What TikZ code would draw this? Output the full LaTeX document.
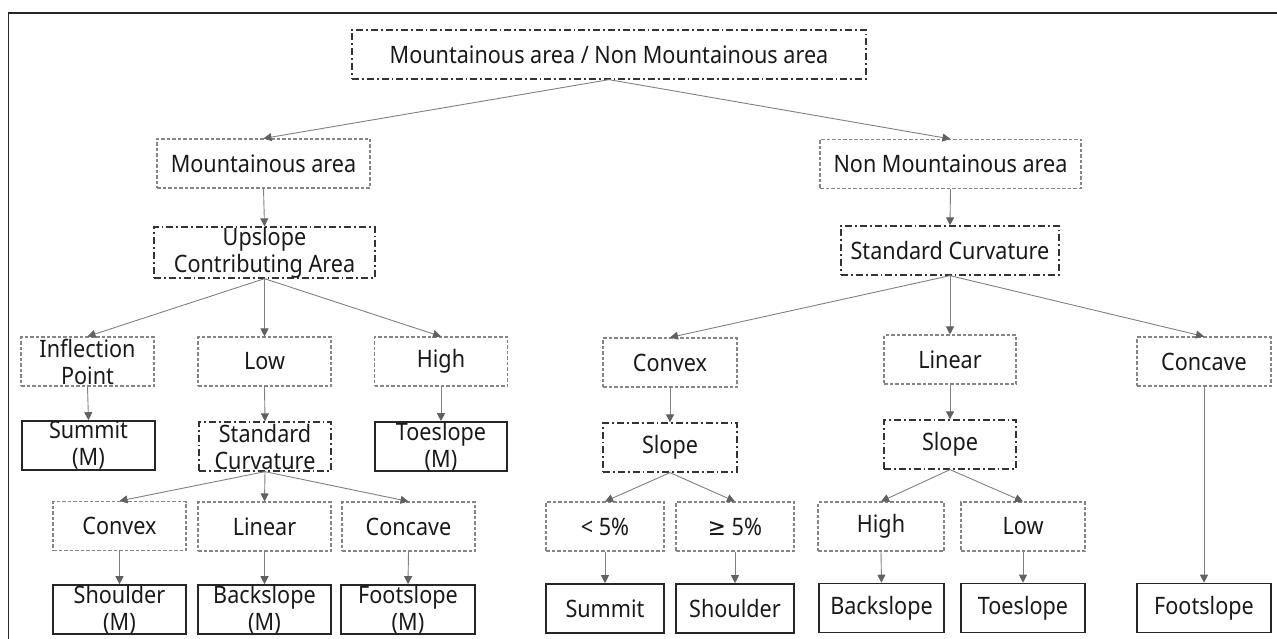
\documentclass[tikz,border=0pt]{standalone}
\usepackage{fontspec}
\setmainfont{Noto Sans}[FakeStretch=0.9]
\newfontfamily\symf{DejaVu Sans}[FakeStretch=0.9]
\usetikzlibrary{arrows.meta}
\begin{document}
\begin{tikzpicture}[x=1pt,y=-1pt,
  base/.style={minimum height=49pt, inner sep=0pt, align=center,
    font=\fontsize{24}{27}\selectfont, text=black!90},
  catbox/.style={base, draw=black!48, line width=1.1pt, dash pattern=on 3.5pt off 2pt},
  decbox/.style={base, draw=black!80, line width=1.3pt, dash pattern=on 7pt off 3pt on 1.8pt off 3pt},
  resbox/.style={base, draw=black!85, line width=1.6pt},
  conn/.style={draw=black!50, line width=0.9pt, -{Triangle[length=8pt,width=8pt,color=black!62]}}]
\useasboundingbox (0,0) rectangle (1277,639);
\draw[line width=1.2pt, black!85] (8.5,639) -- (8.5,13) -- (1277,13);

% level 1-2
\node[decbox, minimum width=514pt] (top) at (609,54.5) {Mountainous area / Non Mountainous area};
\node[catbox, minimum width=213pt] (mount) at (263.5,163.5) {Mountainous area};
\node[catbox, minimum width=261pt] (nonm) at (950.5,164) {Non Mountainous area};
\node[decbox, minimum width=221pt] (ups) at (264.5,252.5) {Upslope\\Contributing Area};
\node[decbox, minimum width=218pt] (scR) at (950,250.5) {Standard Curvature};

% row 3
\node[catbox, minimum width=133pt] (infl) at (87.5,361.5) {Inflection\\Point};
\node[catbox, minimum width=133pt] (low) at (264.5,361.5) {Low};
\node[catbox, minimum width=133pt] (high) at (441,361.5) {High};
\node[catbox, minimum width=134pt] (convR) at (670,362.5) {Convex};
\node[catbox, minimum width=132pt] (linR) at (950,359.5) {Linear};
\node[catbox, minimum width=134pt] (concR) at (1204,361.5) {Concave};

% row 4
\node[resbox, minimum width=133pt] (sumM) at (88.5,445.5) {Summit\\(M)};
\node[decbox, minimum width=132pt] (scL) at (265,446.5) {Standard\\Curvature};
\node[resbox, minimum width=132pt] (toeM) at (441,446.5) {Toeslope\\(M)};
\node[decbox, minimum width=134pt] (slC) at (670,447.5) {Slope};
\node[decbox, minimum width=132pt] (slL) at (950,444.5) {Slope};

% row 5
\node[catbox, minimum width=133pt] (convL) at (119.5,526) {Convex};
\node[catbox, minimum width=133pt] (linL) at (264.5,526.5) {Linear};
\node[catbox, minimum width=133pt] (concL) at (408.5,526.5) {Concave};
\node[catbox, minimum width=118pt] (lt) at (605,526.5) {< 5\%};
\node[catbox, minimum width=118pt] (ge) at (735,526.5) {{\symf ≥} 5\%};
\node[catbox, minimum width=126pt] (highR) at (881,526.5) {High};
\node[catbox, minimum width=124pt] (lowR) at (1023,526.5) {Low};

% row 6
\node[resbox, minimum width=133pt] (shM) at (119.5,609.5) {Shoulder\\(M)};
\node[resbox, minimum width=133pt] (backM) at (264.5,609.5) {Backslope\\(M)};
\node[resbox, minimum width=134pt] (footM) at (408,609.5) {Footslope\\(M)};
\node[resbox, minimum width=118pt] (sum) at (605,608.5) {Summit};
\node[resbox, minimum width=118pt] (sho) at (735,608.5) {Shoulder};
\node[resbox, minimum width=125pt] (back) at (881.5,608) {Backslope};
\node[resbox, minimum width=124pt] (toe) at (1023,608) {Toeslope};
\node[resbox, minimum width=134pt] (foot) at (1204,608) {Footslope};

% connectors
\draw[conn] (top.south) -- (mount.north);
\draw[conn] (top.south) -- (nonm.north);
\draw[conn] (mount.south) -- (ups.north);
\draw[conn] (nonm.south) -- (scR.north);
\draw[conn] (ups.south) -- (infl.north);
\draw[conn] (ups.south) -- (low.north);
\draw[conn] (ups.south) -- (high.north);
\draw[conn] (infl.south) -- (sumM.north);
\draw[conn] (low.south) -- (scL.north);
\draw[conn] (high.south) -- (toeM.north);
\draw[conn] (scL.south) -- (convL.north);
\draw[conn] (scL.south) -- (linL.north);
\draw[conn] (scL.south) -- (concL.north);
\draw[conn] (convL.south) -- (shM.north);
\draw[conn] (linL.south) -- (backM.north);
\draw[conn] (concL.south) -- (footM.north);
\draw[conn] (scR.south) -- (convR.north);
\draw[conn] (scR.south) -- (linR.north);
\draw[conn] (scR.south) -- (concR.north);
\draw[conn] (convR.south) -- (slC.north);
\draw[conn] (linR.south) -- (slL.north);
\draw[conn] (concR.south) -- (foot.north);
\draw[conn] (slC.south) -- (lt.north);
\draw[conn] (slC.south) -- (ge.north);
\draw[conn] (slL.south) -- (highR.north);
\draw[conn] (slL.south) -- (lowR.north);
\draw[conn] (lt.south) -- (sum.north);
\draw[conn] (ge.south) -- (sho.north);
\draw[conn] (highR.south) -- (back.north);
\draw[conn] (lowR.south) -- (toe.north);
\end{tikzpicture}
\end{document}
